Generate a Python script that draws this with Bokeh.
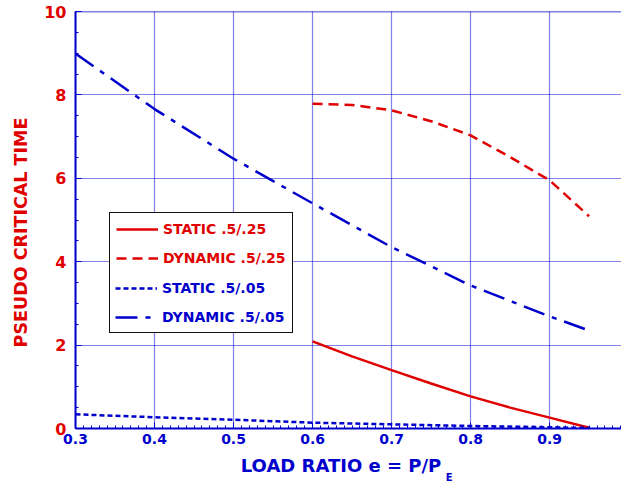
from bokeh.plotting import figure
from bokeh.models import (Range1d, SingleIntervalTicker, FixedTicker, PrintfTickFormatter, Legend,
                          LegendItem, Span, LinearAxis)
from bokeh.embed import file_html
from bokeh.resources import INLINE

# ---- data ----
x_static25 = [0.60, 0.65, 0.70, 0.75, 0.80, 0.85, 0.90, 0.95]
y_static25 = [2.09, 1.73, 1.40, 1.08, 0.77, 0.50, 0.26, 0.02]

x_dyn25 = [0.60, 0.65, 0.70, 0.75, 0.80, 0.85, 0.90, 0.95]
y_dyn25 = [7.79, 7.76, 7.63, 7.37, 7.03, 6.51, 5.95, 5.09]

x_static05 = [0.30, 0.40, 0.50, 0.60, 0.70, 0.80, 0.90, 0.95]
y_static05 = [0.34, 0.27, 0.21, 0.14, 0.10, 0.06, 0.03, 0.01]

x_dyn05 = [0.30, 0.40, 0.50, 0.60, 0.70, 0.80, 0.90, 0.95]
y_dyn05 = [8.99, 7.66, 6.47, 5.40, 4.35, 3.43, 2.69, 2.35]

labels = ["STATIC .5/.25", "DYNAMIC .5/.25", "STATIC .5/.05", "DYNAMIC .5/.05"]
x_label_main = "LOAD RATIO  e = P/P"
x_label_sub = "E"
y_label = "PSEUDO CRITICAL TIME"

x_start, x_end = 0.3, 0.991
y_start, y_end = 0.0, 10.0
x_title_pos = 0.640    # centre of the x-axis title
x_sub_pos = 0.7728     # position of the subscript
y_title_pos = 4.70     # centre of the y-axis title

RED = "#e00000"
BLUE = "#0000cc"
FONT = "DejaVu Sans"

p = figure(width=621, height=486, x_range=Range1d(x_start, x_end), y_range=Range1d(y_start, y_end),
           min_border_left=75, min_border_right=0, min_border_top=11, min_border_bottom=58,
           output_backend="svg", toolbar_location=None)
p.outline_line_color = None
p.background_fill_color = "white"

# axes
p.xaxis.ticker = SingleIntervalTicker(interval=0.1, num_minor_ticks=10)
p.yaxis.ticker = SingleIntervalTicker(interval=2, num_minor_ticks=4)
p.xaxis.formatter = PrintfTickFormatter(format="%.1f")
for ax in (p.xaxis, p.yaxis):
    ax.axis_line_color = BLUE
    ax.axis_line_width = 2
    ax.major_tick_line_color = BLUE
    ax.minor_tick_line_color = BLUE
    ax.major_tick_in = 6
    ax.major_tick_out = 0
    ax.minor_tick_in = 3
    ax.minor_tick_out = 0
    ax.major_label_text_font = FONT
    ax.major_label_text_font_style = "bold"
p.xaxis.major_label_text_font_size = "14px"
p.yaxis.major_label_text_font_size = "16px"
p.xaxis.major_label_text_color = BLUE
p.yaxis.major_label_text_color = RED
p.xaxis.major_label_standoff = 5
p.yaxis.major_label_standoff = 9

def label_axis(pos, text, size, standoff, color, **kw):
    return LinearAxis(ticker=FixedTicker(ticks=[pos]), major_label_overrides={pos: text},
                      axis_line_color=None, major_tick_line_color=None, minor_tick_line_color=None,
                      major_tick_in=0, major_tick_out=0, minor_tick_in=0, minor_tick_out=0,
                      major_label_standoff=standoff, major_label_text_color=color,
                      major_label_text_font=FONT, major_label_text_font_style="bold",
                      major_label_text_font_size=size, **kw)

# y-axis title
p.add_layout(label_axis(y_title_pos, y_label, "17.5px", 10, RED,
                        major_label_orientation="parallel"), "left")
# x-axis title with subscript
p.add_layout(label_axis(x_title_pos, x_label_main, "18px", 8, BLUE), "below")
p.add_layout(label_axis(x_sub_pos, x_label_sub, "10px", -7, BLUE), "below")

# grid
for g in (p.xgrid, p.ygrid):
    g.grid_line_color = BLUE
    g.grid_line_dash = "1 1"
    g.grid_line_width = 1.2
p.add_layout(Span(location=y_end, dimension="width", line_color=BLUE, line_width=1.5))

# lines
r1 = p.line(x_static25, y_static25, line_color=RED, line_width=2.5)
r2 = p.line(x_dyn25, y_dyn25, line_color=RED, line_width=2.5, line_dash="10 6")
r3 = p.line(x_static05, y_static05, line_color=BLUE, line_width=2.5, line_dash="5 3")
r4 = p.line(x_dyn05, y_dyn05, line_color=BLUE, line_width=2.5, line_dash="22 8 5 8")

def style_legend(lg, pad):
    lg.label_text_font = FONT
    lg.label_text_font_style = "bold"
    lg.label_text_font_size = "14px"
    lg.glyph_width = 42
    lg.glyph_height = 20
    lg.label_height = 20
    lg.label_standoff = 5
    lg.spacing = 9
    lg.padding = pad
    lg.margin = 0
    lg.background_fill_color = "white"
    lg.background_fill_alpha = 1.0

legA = Legend(items=[LegendItem(label=labels[0], renderers=[r1]),
                     LegendItem(label=labels[1], renderers=[r2]),
                     LegendItem(label=labels[2], renderers=[r3]),
                     LegendItem(label=labels[3], renderers=[r4])],
              location=(34, 95))
style_legend(legA, 6)
legA.label_text_color = RED
legA.border_line_color = "#111111"
legA.border_line_alpha = 1.0
legA.border_line_width = 1.5
p.add_layout(legA, "center")

legB = Legend(items=[LegendItem(label=labels[2], renderers=[r3]),
                     LegendItem(label=labels[3], renderers=[r4])],
              location=(35, 96))
style_legend(legB, 5)
legB.label_text_color = BLUE
legB.border_line_color = "white"
legB.border_line_alpha = 0.0
p.add_layout(legB, "center")

open("out.html", "w").write(file_html(p, INLINE))
